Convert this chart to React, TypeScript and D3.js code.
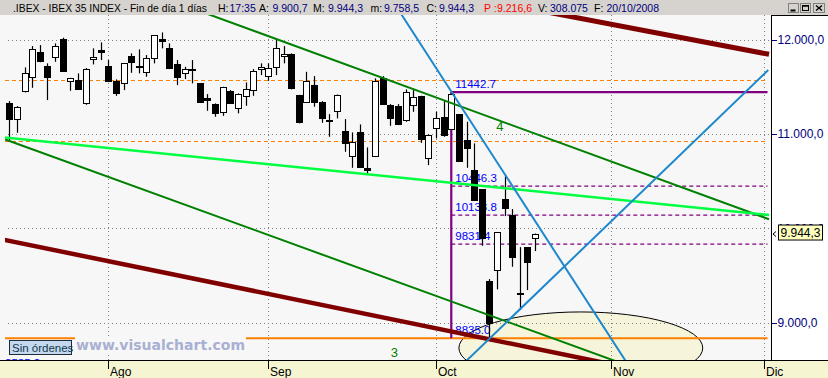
import React from 'react';
import * as d3 from 'd3';

const W = 828;
const H = 378;

// OHLC, one per trading day (15 Jul 2008 .. 20 Oct 2008)
const opens = [11324, 11154, 11451, 11606, 11864, 11719, 11811, 12005, 11557, 11567, 11324, 11790, 11889, 11719, 11557, 11536, 11825, 11719, 11659, 11801, 12005, 11907, 11740, 11642, 11690, 11536, 11377, 11313, 11228, 11454, 11271, 11401, 11461, 11684, 11613, 11712, 11825, 11846, 11412, 11341, 11518, 11337, 11150, 11245, 11030, 10768, 11016, 10635, 10768, 11595, 11306, 11295, 11147, 11302, 11401, 10741, 11059, 11182, 11048, 11207, 10935, 10617, 10412, 9440, 9557, 10309, 10140, 9312, 9797, 9900.7];
const highs = [11348, 11295, 11705, 11931, 11942, 11748, 11960, 12020, 11595, 11642, 11698, 11907, 11970, 11783, 11578, 11752, 11854, 11896, 11836, 12045, 12076, 11960, 11783, 11712, 11783, 11540, 11422, 11324, 11500, 11465, 11430, 11546, 11687, 11748, 11748, 12005, 11931, 11854, 11415, 11659, 11613, 11348, 11210, 11418, 11157, 11016, 11101, 10857, 11589, 11613, 11316, 11316, 11472, 11465, 11405, 10995, 11235, 11348, 11442.7, 11210, 11129, 10900, 10415, 9461, 9960, 10571, 10203, 9800, 9800, 9944.3];
const lows = [10935, 11012, 11440, 11489, 11760, 11359, 11765, 11659, 11457, 11470, 11309, 11737, 11783, 11555, 11404, 11465, 11648, 11642, 11606, 11748, 11907, 11687, 11518, 11581, 11536, 11330, 11245, 11182, 11192, 11320, 11218, 11298, 11404, 11624, 11563, 11624, 11748, 11472, 11112, 11335, 11288, 11118, 10970, 11165, 10811, 10641, 10645, 10564, 10755, 11314, 11086, 11094, 11129, 11235, 10906, 10670, 10953, 10970, 11040, 10705, 10641, 10290, 9814, 8835, 9352, 10129, 9592, 9133, 9345, 9758.5];
const closes = [11154, 11281, 11642, 11896, 11775, 11606, 11931, 11669, 11589, 11478, 11684, 11811, 11871, 11563, 11436, 11748, 11765, 11705, 11801, 12045, 11987, 11695, 11599, 11684, 11680, 11334, 11359, 11218, 11493, 11324, 11422, 11472, 11666, 11705, 11695, 11910, 11846, 11483, 11129, 11560, 11341, 11171, 11140, 11412, 10900, 10910, 10652, 10620, 11560, 11319, 11171, 11107, 11440, 11387, 10942, 10988, 11171, 10988, 11419, 10712, 10853, 10299, 9893, 8992, 9956, 10217, 9698, 9305, 9645, 9944.3];

// x axis: month labels at trading-day index
const monthLabels = ['Ago', 'Sep', 'Oct', 'Nov', 'Dic'];
const monthIndex = [13, 34, 56, 79, 99];

// y axis
const yTicks = [12000, 11000, 10000, 9000];
const yTickLabels = ['12.000,0', '11.000,0', '10.000,0', '9.000,0'];

// Fibonacci retracement
const fibLevels = [11442.7, 10446.3, 10138.8, 9831.4, 8835.0];
const fibLabels = ['11442.7', '10446.3', '10138.8', '9831.4', '8835.0'];
const fibStart = 58;
const fibEnd = 99.5;

// horizontal support / resistance
const orangeDashedLevels = [11567, 10921];
const orangeSolidLevel = 8835;

// trend lines: [idx1, price1, idx2, price2]
const darkRedLines = [[-1, 9883, 99.7, 8216], [70, 12301, 99.7, 11844]];
const darkGreenLines = [[25, 12302, 99.7, 10096], [-1, 10955, 99.7, 8001]];
const lightGreenLines = [[-1, 10966, 99.7, 10141]];
const blueLines = [[51, 12324, 83, 8329], [59, 8518, 99.6, 11678]];

// ellipse: center idx, center price, half width (days), half height (points)
const ellipseSpec = [75, 8731, 16, 382];

// annotations
const annoText = ['4', '3'];
const annoIdx = [63.9, 50.05];
const annoPrice = [11031, 8635];

const lastPrice = '9.944,3';

const header = [
  { x: 13, t: '.IBEX - IBEX 35 INDEX - Fin de día 1 días', c: '#000', len: 194 },
  { x: 218, t: 'H:', c: '#000' },
  { x: 229.5, t: '17:35', c: '#000080' },
  { x: 259, t: 'A:', c: '#000' },
  { x: 272.5, t: '9.900,7', c: '#000080' },
  { x: 313, t: 'M:', c: '#000' },
  { x: 328, t: '9.944,3', c: '#000080' },
  { x: 370.5, t: 'm:', c: '#000' },
  { x: 384, t: '9.758,5', c: '#000080' },
  { x: 426.5, t: 'C:', c: '#000' },
  { x: 439, t: '9.944,3', c: '#000080' },
  { x: 484, t: 'P :', c: '#ff0000' },
  { x: 497, t: '9.216,6', c: '#ff0000' },
  { x: 538, t: 'V:', c: '#000' },
  { x: 550, t: '308.075', c: '#000080' },
  { x: 594, t: 'F:', c: '#000' },
  { x: 606.5, t: '20/10/2008', c: '#000080' },
];

export default function App() {
  const x = d3.scaleLinear().domain([0, 99]).range([9.3, 763.7]);
  const y = d3.scaleLinear().domain([9000, 12000]).range([322.6, 39.6]);
  const plotL = 5, plotR = 771, plotT = 15, plotB = 360;
  const line = d3.line<[number, number]>().x(d => x(d[0])).y(d => y(d[1]));
  const seg = (s: number[]) => line([[s[0], s[1]], [s[2], s[3]]]) || '';
  const sans = 'Liberation Sans, Arial, sans-serif';

  const [ecI, ecP, ehw, ehh] = ellipseSpec;
  const ecx = x(ecI), ecy = y(ecP);
  const erx = x(ecI + ehw) - ecx, ery = y(ecP - ehh) - ecy;
  const lastY = y(closes[closes.length - 1]);

  return (
    <svg width={W} height={H} style={{ position: 'absolute', left: 0, top: 0 }} xmlns="http://www.w3.org/2000/svg">
      <defs>
        <clipPath id="plot">
          <rect x={plotL} y={plotT} width={plotR - plotL} height={plotB - plotT} />
        </clipPath>
        <clipPath id="tenk">
          <rect x={772} y={plotT} width={W - 772} height={lastY - 8.5 - plotT} />
        </clipPath>
      </defs>
      {/* header */}
      <rect x={0} y={0} width={W} height={15} fill="#d6d3ce" />
      {header.map((h, i) => (
        <text key={'h' + i} x={h.x} y={12} fill={h.c} fontFamily={sans} fontSize={10.5}
          {...(h.len ? { textLength: h.len, lengthAdjust: 'spacingAndGlyphs' } : {})}>{h.t}</text>
      ))}
      {/* window buttons */}
      {[788.5, 800.5, 813.5].map((bx, k) => (
        <g key={k}>
          <rect x={bx} y={3.5} width={k === 2 ? 11 : 10} height={9} fill="#d6d3ce" stroke="#808080" />
          {k === 0 && <line x1={bx + 2} x2={bx + 7} y1={10.5} y2={10.5} stroke="#000" strokeWidth={2} />}
          {k === 1 && <rect x={bx + 2} y={5.5} width={6} height={5} fill="none" stroke="#000" strokeWidth={1} />}
          {k === 1 && <line x1={bx + 2} x2={bx + 8} y1={6} y2={6} stroke="#000" strokeWidth={1.5} />}
          {k === 2 && <path d={`M${bx + 2.5},5.5 L${bx + 8.5},10.5 M${bx + 8.5},5.5 L${bx + 2.5},10.5`} stroke="#000" strokeWidth={1.5} />}
        </g>
      ))}

      {/* plot background */}
      <rect x={0} y={plotT} width={plotR} height={plotB - plotT} fill="#f7f7f7" />

      <g clipPath="url(#plot)">
        {/* ellipse */}
        <ellipse cx={ecx} cy={ecy} rx={erx} ry={ery} fill="#f6f4da" stroke="#000" strokeWidth={1} />

        {/* grid */}
        {yTicks.map((t, i) => (
          <line key={'gy' + i} x1={8} x2={plotR} y1={Math.round(y(t)) + 0.5} y2={Math.round(y(t)) + 0.5} stroke="#808080" strokeDasharray="1,3" />
        ))}
        {monthIndex.map((m, i) => (
          <line key={'gx' + i} x1={Math.round(x(m)) + 0.5} x2={Math.round(x(m)) + 0.5} y1={plotT} y2={plotB} stroke="#808080" strokeDasharray="1,3" />
        ))}

        {/* orange levels */}
        {orangeDashedLevels.map((v, i) => (
          <line key={'od' + i} x1={plotL} x2={x(99.2)} y1={Math.round(y(v)) + 0.5} y2={Math.round(y(v)) + 0.5} stroke="#ff8000" strokeWidth={1.2} strokeDasharray="4,3" />
        ))}
        <line x1={plotL} x2={x(99.5)} y1={y(orangeSolidLevel)} y2={y(orangeSolidLevel)} stroke="#ff8000" strokeWidth={2} />

        {/* fibonacci */}
        {fibLevels.slice(0, 4).map((v, i) => (
          <line key={'fl' + i} x1={x(fibStart)} x2={x(fibEnd)} y1={y(v)} y2={y(v)} stroke="#800080"
            strokeWidth={i === 0 ? 2.2 : 1.3} strokeDasharray={i === 0 ? undefined : '4,3'} />
        ))}
        <line x1={x(fibStart)} x2={x(fibStart)} y1={y(fibLevels[0])} y2={y(fibLevels[4])} stroke="#800080" strokeWidth={2.2} />
        {fibLabels.map((t, i) => (
          <text key={'ft' + i} x={x(fibStart) + 4} y={y(fibLevels[i]) - 4} fill="#0000ff" fontFamily={sans} fontSize={11.5}>{t}</text>
        ))}
        <text x={5} y={367} fill="#0000ff" fontFamily={sans} fontSize={11.5}>8585.2</text>

        {/* candles */}
        {opens.map((o, i) => {
          const c = Math.round(x(i)) + 0.5;
          const cl = closes[i];
          const up = cl >= o;
          const top = Math.round(y(Math.max(o, cl))) + 0.5;
          const bot = Math.round(y(Math.min(o, cl))) + 0.5;
          const h = Math.max(bot - top, 1);
          return (
            <g key={'c' + i}>
              <line x1={c} x2={c} y1={y(highs[i])} y2={y(lows[i])} stroke="#000" strokeWidth={1.2} />
              <rect x={c - 3} y={top} width={6} height={h} fill={up ? '#fff' : '#000'} stroke="#000" strokeWidth={1} />
            </g>
          );
        })}

        {/* trend lines */}
        {darkRedLines.map((s, i) => (
          <path key={'dr' + i} d={seg(s)} stroke="#800000" strokeWidth={i === 0 ? 4.5 : 5} fill="none" />
        ))}
        {darkGreenLines.map((s, i) => (
          <path key={'dg' + i} d={seg(s)} stroke="#008000" strokeWidth={2} fill="none" />
        ))}
        {lightGreenLines.map((s, i) => (
          <path key={'lg' + i} d={seg(s)} stroke="#00ff40" strokeWidth={2.5} fill="none" />
        ))}
        {blueLines.map((s, i) => (
          <path key={'bl' + i} d={seg(s)} stroke="#1e88cc" strokeWidth={2} fill="none" />
        ))}

        {/* annotations */}
        {annoText.map((t, i) => (
          <text key={'an' + i} x={x(annoIdx[i])} y={y(annoPrice[i])} fill="#008000" fontFamily={sans} fontSize={13}>{t}</text>
        ))}

        {/* watermark */}
        <rect x={75} y={337} width={171} height={16} fill="#f7f7f7" />
        <text x={76} y={350} fill="#a9b0d2" fontFamily="DejaVu Sans, Verdana, sans-serif" fontWeight="bold" fontSize={14}
          textLength={169} lengthAdjust="spacingAndGlyphs">www.visualchart.com</text>
      </g>

      {/* Sin órdenes */}
      <rect x={9.5} y={340.5} width={62} height={14} fill="#c6d8f0" stroke="#1c2c38" strokeWidth={1} />
      <text x={12} y={351.5} fill="#0e3848" fontFamily={sans} fontSize={11.5}>Sin órdenes</text>

      {/* right axis panel */}
      <rect x={772} y={plotT} width={W - 772} height={plotB - plotT} fill="#ffffff" />
      <line x1={771.5} x2={771.5} y1={plotT} y2={plotB} stroke="#000" />
      <line x1={772} x2={W} y1={plotT + 0.5} y2={plotT + 0.5} stroke="#000" />
      {yTicks.map((t, i) => (
        <g key={'yt' + i} clipPath={t === 10000 ? 'url(#tenk)' : undefined}>
          <line x1={772} x2={777} y1={Math.round(y(t)) + 0.5} y2={Math.round(y(t)) + 0.5} stroke="#000080" />
          <text x={777.5} y={y(t) + 4.3} fill="#000080" fontFamily={sans} fontSize={12}>{yTickLabels[i]}</text>
        </g>
      ))}
      {/* last price box */}
      <rect x={778.5} y={lastY - 8.5} width={44} height={15} fill="#ffffc0" stroke="#000" />
      <text x={800.5} y={lastY + 3.8} textAnchor="middle" fill="#000" fontFamily={sans} fontSize={12}>{lastPrice}</text>
      <path d={`M776,${lastY - 2} L773,${lastY + 0.5} L776,${lastY + 3}`} stroke="#000" fill="none" strokeWidth={1} />

      {/* bottom axis */}
      <rect x={0} y={plotB} width={W} height={H - plotB} fill="#f6f5d2" />
      <line x1={0} x2={W} y1={plotB + 0.5} y2={plotB + 0.5} stroke="#000" />
      {monthIndex.map((m, i) => (
        <g key={'mt' + i}>
          <line x1={Math.round(x(m)) + 0.5} x2={Math.round(x(m)) + 0.5} y1={plotB} y2={plotB + 9} stroke="#000" />
          <text x={Math.round(x(m)) + 2} y={376} fill="#000" fontFamily={sans} fontSize={12}>{monthLabels[i]}</text>
        </g>
      ))}
    </svg>
  );
}
